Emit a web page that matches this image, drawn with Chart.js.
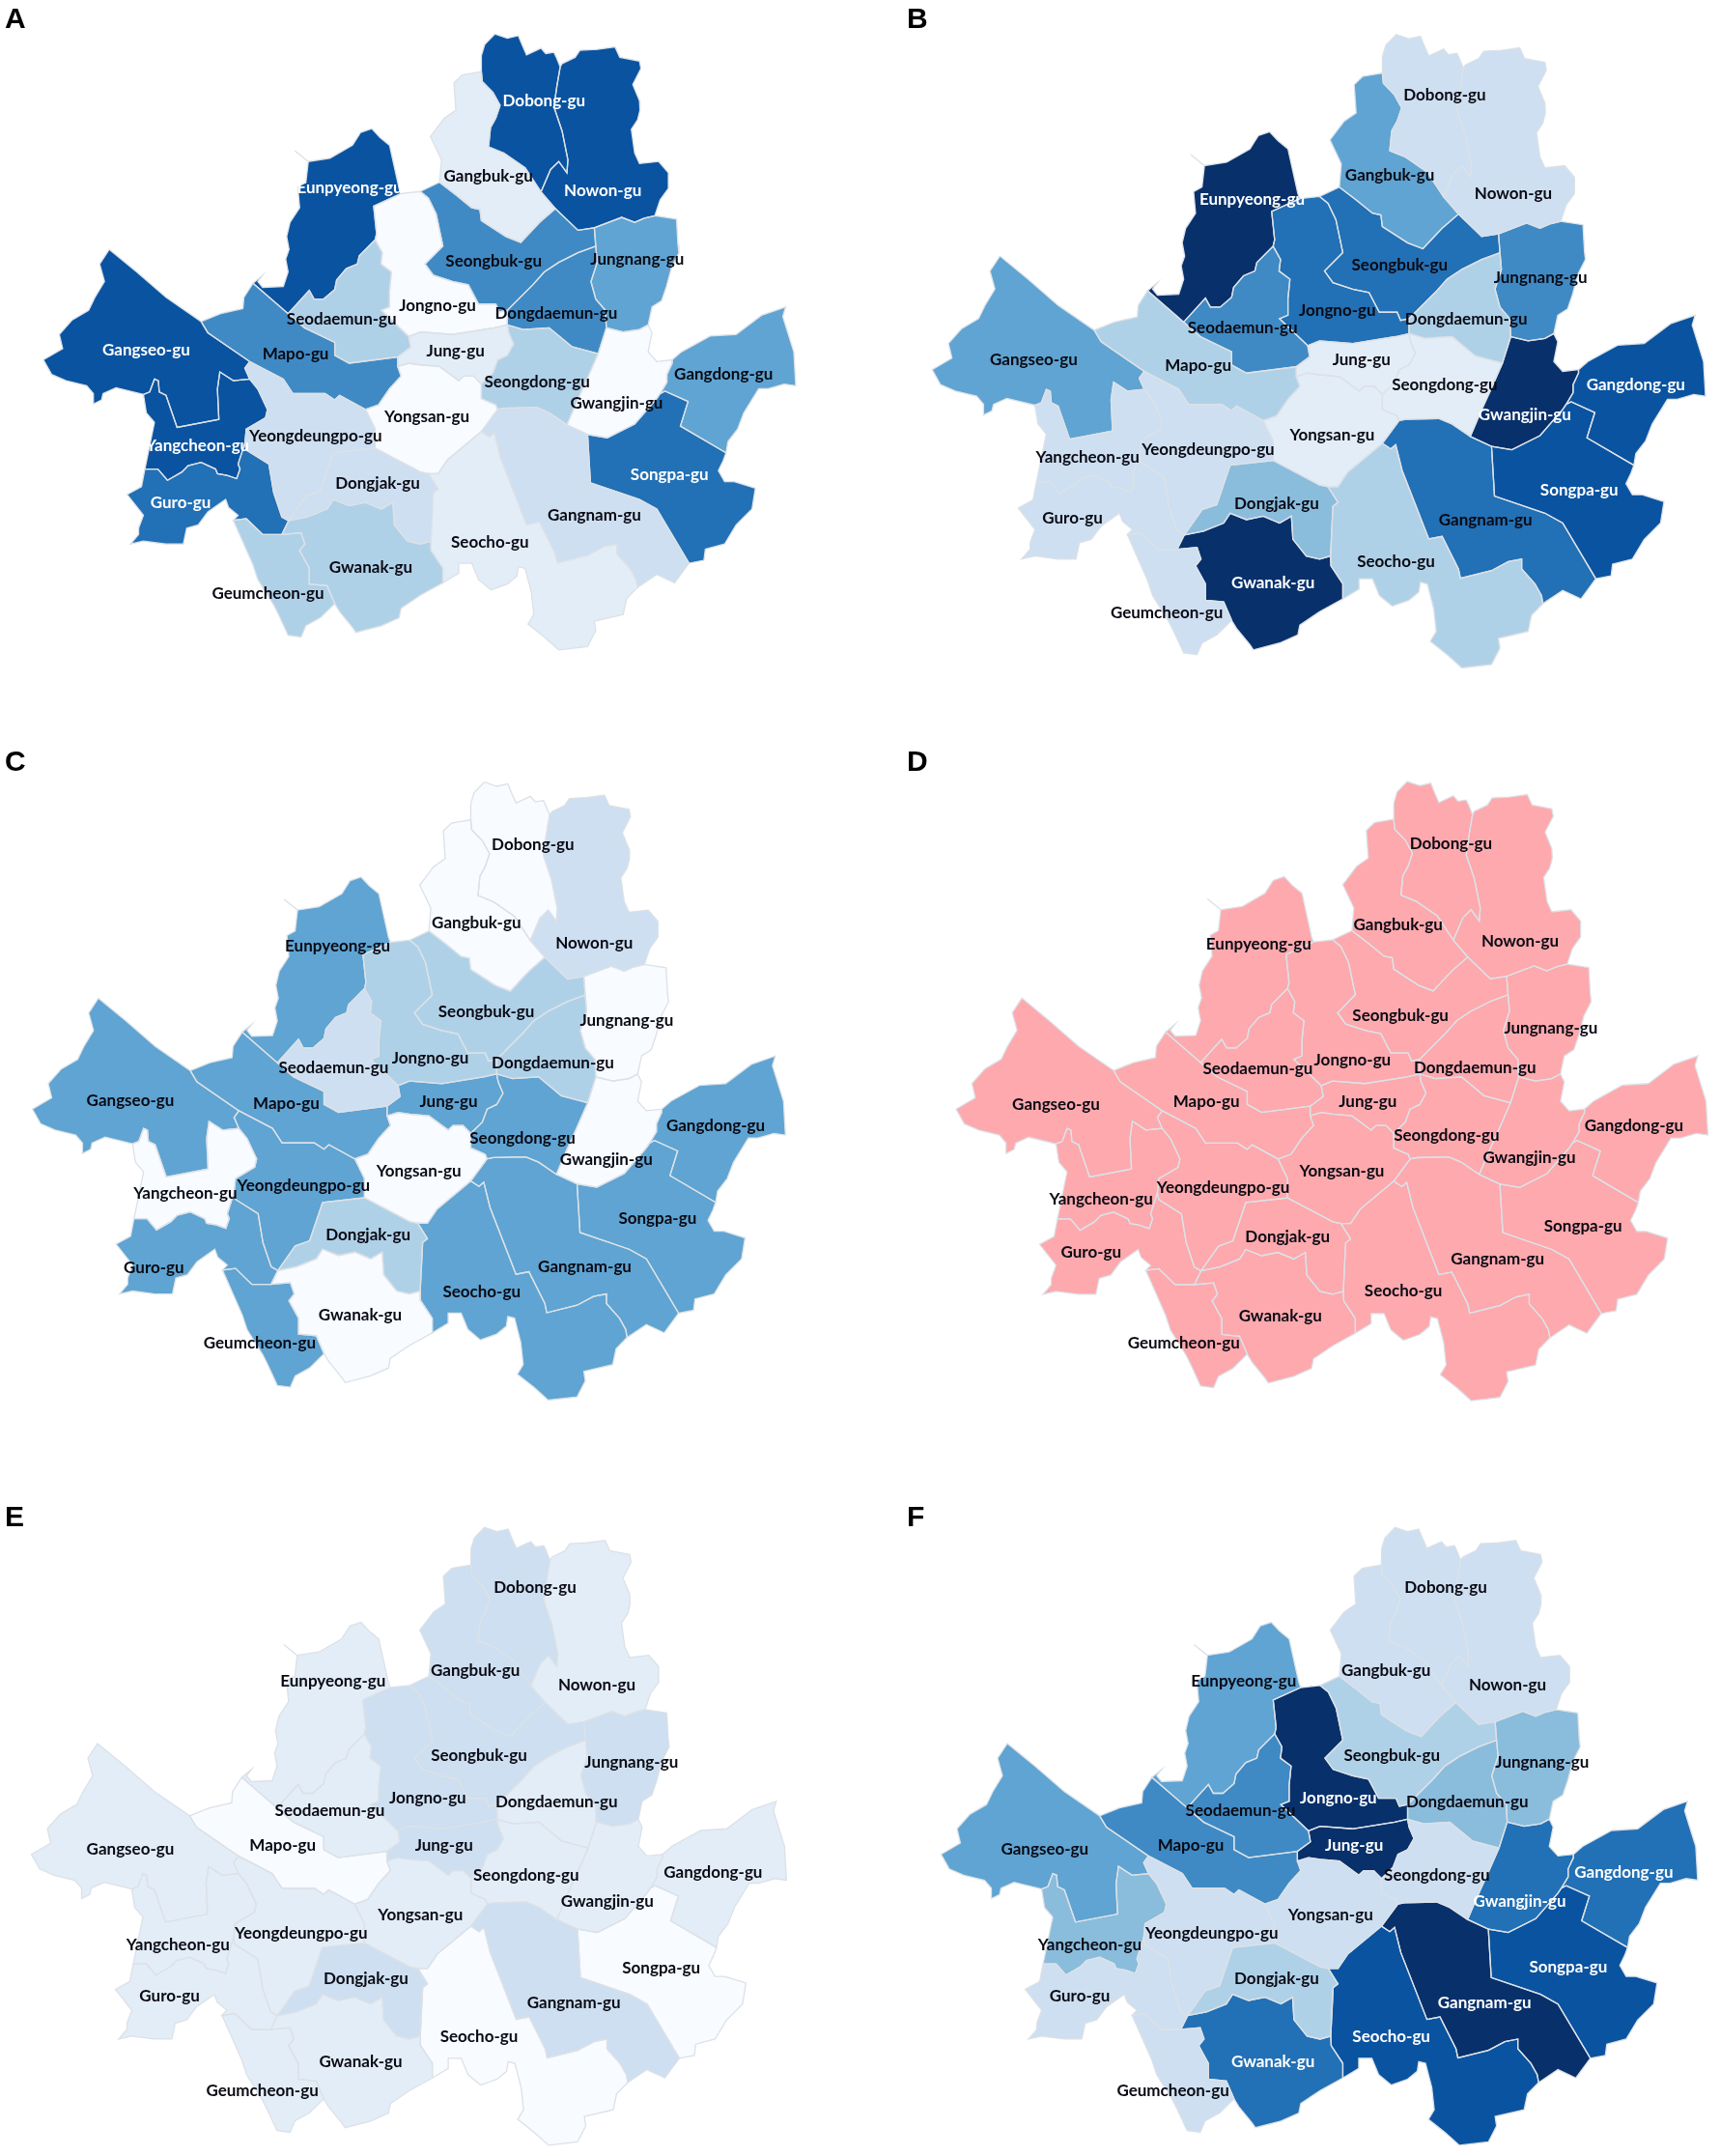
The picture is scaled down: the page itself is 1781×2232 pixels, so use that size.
<!DOCTYPE html>
<html><head><meta charset="utf-8">
<style>html,body{margin:0;padding:0;background:#fff}#page{position:relative;width:1781px;height:2232px;overflow:hidden}canvas{position:absolute}</style>
<script src="https://cdn.jsdelivr.net/npm/chart.js@4/dist/chart.umd.js"></script>
</head><body><div id="page"></div>
<script>
const districts=["Dobong-gu","Nowon-gu","Gangbuk-gu","Seongbuk-gu","Jungnang-gu","Dongdaemun-gu","Jongno-gu","Eunpyeong-gu","Seodaemun-gu","Mapo-gu","Jung-gu","Seongdong-gu","Gwangjin-gu","Gangdong-gu","Songpa-gu","Gangnam-gu","Seocho-gu","Yongsan-gu","Dongjak-gu","Gwanak-gu","Geumcheon-gu","Guro-gu","Yeongdeungpo-gu","Yangcheon-gu","Gangseo-gu"];

// shaded class of each district, same order as districts
const classesA=[8,8,1,6,5,6,0,8,3,6,1,3,0,5,7,2,1,0,2,3,3,7,2,8,8];
const classesB=[2,2,5,7,6,3,7,9,6,3,1,1,9,8,8,7,3,1,4,9,2,2,2,2,5];
const classesC=[0,2,0,3,0,3,3,5,2,5,5,5,0,5,5,5,5,0,3,0,5,5,5,0,5];
const classesD=[10,10,10,10,10,10,10,10,10,10,10,10,10,10,10,10,10,10,10,10,10,10,10,10,10];
const classesE=[2,1,2,2,2,1,2,1,1,0,2,1,1,1,0,2,0,1,2,1,1,1,1,1,1];
const classesF=[2,2,2,3,4,4,9,5,6,6,9,2,7,7,8,9,8,2,3,7,2,2,2,4,5];
const palette=["#f8fbff","#e3edf7","#cddff0","#afd1e7","#8abcdc","#5fa4d2","#3f8ac4","#2270b5","#0a53a0","#08306b","#fda9ad"];

// boundary chains in map units
const dobongTop=[[911,96],[918,69],[939,44],[965,54],[988,48],[997,73],[1005,94],[1035,78],[1045,91],[1062,88],[1067,100],[1075,123]];
const dobongNowon=[[1075,123],[1068,170],[1062,219],[1079,277],[1091,346],[1089,377],[1072,350],[1055,369],[1035,423]];
const dobongGangbuk=[[1035,423],[1002,365],[958,330],[926,315],[930,269],[941,246],[950,215],[935,184],[913,158],[911,134]];
const nowonOuter=[[1075,123],[1079,115],[1106,100],[1116,83],[1152,81],[1189,75],[1199,100],[1240,109],[1243,127],[1226,165],[1240,204],[1241,227],[1236,250],[1223,273],[1230,330],[1240,355],[1280,350],[1300,377],[1300,415],[1283,442],[1272,480]];
const nowonJungnang=[[1272,480],[1250,486],[1230,496],[1203,484],[1146,509]];
const nowonSeongbuk=[[1146,509],[1112,515],[1065,463]];
const nowonGangbuk=[[1065,463],[1035,423]];
const gangbukOuter=[[911,134],[871,142],[854,161],[858,227],[834,246],[805,290],[828,346],[824,400]];
const gangbukSeongbuk=[[824,400],[858,430],[891,461],[908,465],[911,492],[962,530],[993,544],[1032,496],[1065,463]];
const seongbukOuter=[[824,400],[784,422]];
const jongnoSeongbuk=[[784,422],[801,438],[817,476],[831,553],[794,596],[811,623],[851,638],[884,646],[905,692],[941,692],[948,711],[965,707]];
const seongbukDongdaemun=[[1149,553],[1112,569],[1072,592],[1042,615],[1018,646],[965,707]];
const seongbukJungnang=[[1146,509],[1149,553]];
const jungnangOuter=[[1272,480],[1317,488],[1320,550],[1322,569],[1307,603],[1296,650],[1286,684],[1266,699],[1258,742]];
const jungnangSouth=[[1258,742],[1240,753],[1206,759],[1171,749]];
const dongdaemunJungnang=[[1149,553],[1152,592],[1139,638],[1149,680],[1169,707],[1171,749]];
const dongdaemunJongno=[[965,707],[965,742]];
const dongdaemunSeongdong=[[965,742],[998,753],[1052,749],[1099,794],[1154,811]];
const dongdaemunGwangjin=[[1154,811],[1171,749]];
const jongnoOuter=[[744,427],[784,422]];
const eunpyeongJongno=[[744,427],[687,457],[693,523],[690,538]];
const jongnoSeodaemun=[[690,538],[705,569],[702,596],[724,615],[720,661],[720,699],[703,707],[760,770]];
const jongnoJung=[[760,770],[784,759],[851,765],[938,749],[965,742]];
const eunpyeongNorth=[[436,642],[456,623],[446,638],[456,652],[499,650],[509,615],[504,584],[511,561],[506,530],[513,496],[533,461],[529,411],[546,400],[551,350],[523,324],[551,350],[596,342],[643,311],[660,280],[683,271],[700,292],[720,311],[740,415],[744,427]];
const eunpyeongSeodaemun=[[690,538],[657,576],[653,596],[630,607],[610,634],[606,657],[583,680],[563,680],[553,659],[509,715]];
const eunpyeongMapo=[[509,715],[436,642]];
const seodaemunMapo=[[509,715],[543,749],[606,784],[606,815],[636,834],[737,819]];
const seodaemunJung=[[737,819],[764,796],[760,770]];
const mapoNorth=[[328,734],[369,715],[415,703],[417,676],[436,642]];
const mapoYongsan=[[670,945],[697,934],[720,895],[744,865],[737,842]];
const mapoJung=[[737,842],[737,819]];
const mapoYdp=[[429,830],[499,872],[519,907],[586,907],[606,922],[616,911],[670,945]];
const gangseoMapo=[[328,734],[342,761],[429,830]];
const jungYongsan=[[737,842],[760,834],[784,838],[824,842],[864,876],[874,865],[895,865],[911,884]];
const jungSeongdong=[[965,742],[968,761],[978,788],[965,815],[945,826],[935,857],[911,884]];
const seongdongYongsan=[[911,884],[911,919],[941,934],[945,945]];
const seongdongGangnam=[[945,945],[958,942],[1025,940],[1052,953],[1089,982]];
const seongdongGwangjin=[[1154,811],[1132,869],[1110,925],[1089,982]];
const gwangjinOuter=[[1258,742],[1266,761],[1258,807],[1276,830],[1308,826]];
const gwangjinGangdong=[[1308,826],[1308,834],[1297,861],[1297,880],[1283,907]];
const gwangjinSongpa=[[1283,907],[1276,919],[1230,980],[1173,1013],[1132,1005]];
const gwangjinGangnam=[[1132,1005],[1089,982]];
const gangdongOuter=[[1308,826],[1327,807],[1387,769],[1441,765],[1494,719],[1544,699],[1538,722],[1561,807],[1565,888],[1541,884],[1508,895],[1488,895],[1457,953],[1444,992],[1424,1022],[1420,1049]];
const gangdongSongpa=[[1420,1049],[1325,985],[1341,926],[1293,901],[1283,907]];
const songpaOuter=[[1420,1049],[1414,1068],[1404,1092],[1417,1118],[1437,1118],[1481,1134],[1474,1184],[1441,1222],[1417,1268],[1377,1280],[1374,1307],[1343,1314]];
const songpaGangnam=[[1343,1314],[1276,1184],[1240,1161],[1138,1121],[1132,1005]];
const gangnamOuter=[[1343,1314],[1313,1361],[1276,1341],[1236,1372]];
const gangnamSeocho=[[1236,1372],[1233,1353],[1220,1326],[1193,1291],[1193,1268],[1166,1274],[1132,1295],[1069,1313],[1065,1291],[1032,1215],[1005,1221],[951,1061],[938,1001],[928,1011],[911,998]];
const gangnamYongsan=[[911,998],[945,945]];
const yongsanSeocho=[[911,998],[841,1065],[821,1099],[801,1099]];
const yongsanDongjak=[[690,1038],[784,1095],[801,1099]];
const ydpYongsan=[[670,945],[690,992],[690,1038]];
const seochoDongjak=[[801,1099],[821,1136],[811,1145],[806,1261]];
const seochoGwanak=[[806,1261],[807,1284],[831,1326],[831,1361]];
const seochoOuter=[[831,1361],[864,1338],[864,1314],[891,1314],[905,1353],[931,1378],[965,1364],[985,1345],[988,1322],[1002,1326],[1015,1384],[1020,1437],[1008,1460],[1042,1491],[1072,1522],[1132,1514],[1149,1476],[1146,1453],[1206,1437],[1213,1399],[1236,1372]];
const dongjakYdp=[[690,1038],[603,1049],[576,1141],[546,1153],[510,1212]];
const dongjakGwanak=[[510,1212],[549,1203],[590,1184],[603,1161],[636,1176],[670,1168],[703,1184],[727,1168],[730,1222],[757,1261],[784,1268],[806,1261]];
const ydpGuro=[[419,1026],[422,1042],[469,1076],[479,1145],[496,1203],[510,1212]];
const gwanakGuro=[[496,1245],[510,1212]];
const gwanakGeumcheon=[[496,1245],[536,1241],[544,1268],[533,1284],[553,1326],[553,1364],[590,1368],[606,1411]];
const gwanakOuter=[[606,1411],[616,1430],[643,1468],[650,1480],[703,1464],[740,1445],[744,1422],[784,1391],[831,1361]];
const geumcheonOuter=[[395,1211],[436,1318],[446,1353],[479,1414],[489,1437],[509,1487],[536,1491],[546,1464],[576,1445],[606,1411]];
const guroGeumcheon=[[395,1211],[422,1207],[456,1245],[496,1245]];
const guroOuter=[[211,1088],[204,1130],[174,1149],[208,1199],[198,1230],[198,1245],[181,1268],[208,1261],[255,1268],[291,1268],[298,1230],[322,1222],[342,1191],[379,1161],[385,1180],[405,1199],[395,1211]];
const guroYangcheon=[[419,1026],[405,1076],[409,1088],[402,1111],[382,1103],[362,1099],[358,1088],[328,1072],[301,1080],[288,1095],[258,1115],[238,1088],[211,1088]];
const ydpYangcheon=[[429,872],[446,896],[466,945],[462,965],[422,992],[419,1026]];
const gangseoYdp=[[429,830],[419,846],[429,872]];
const gangseoYangcheon=[[429,872],[395,876],[367,855],[362,896],[365,969],[278,988],[255,911],[241,903],[239,876],[231,872],[221,903],[208,909]];
const yangcheonOuter=[[208,909],[214,953],[231,976],[224,1015],[214,1072],[211,1088]];
const gangseoOuter=[[328,734],[255,676],[194,615],[137,561],[117,596],[127,638],[107,676],[94,707],[60,730],[33,765],[40,799],[0,826],[17,861],[47,876],[90,888],[104,907],[104,932],[121,922],[124,907],[151,893],[208,909]];

const rev=a=>[...a].reverse();
const outlines=[
 [...dobongTop,...dobongNowon,...dobongGangbuk],
 [...nowonOuter,...nowonJungnang,...nowonSeongbuk,...nowonGangbuk,...rev(dobongNowon)],
 [...gangbukOuter,...gangbukSeongbuk,...nowonGangbuk,...dobongGangbuk],
 [...seongbukOuter,...jongnoSeongbuk,...rev(seongbukDongdaemun),...rev(seongbukJungnang),...nowonSeongbuk,...rev(gangbukSeongbuk)],
 [...jungnangOuter,...jungnangSouth,...rev(dongdaemunJungnang),...rev(seongbukJungnang),...rev(nowonJungnang)],
 [...seongbukDongdaemun,...dongdaemunJongno,...dongdaemunSeongdong,...dongdaemunGwangjin,...rev(dongdaemunJungnang)],
 [...jongnoOuter,...jongnoSeongbuk,...dongdaemunJongno,...rev(jongnoJung),...rev(jongnoSeodaemun),...rev(eunpyeongJongno)],
 [...eunpyeongNorth,...eunpyeongJongno,...eunpyeongSeodaemun,...eunpyeongMapo],
 [...rev(eunpyeongSeodaemun),...jongnoSeodaemun,...rev(seodaemunJung),...rev(seodaemunMapo)],
 [...mapoNorth,...rev(eunpyeongMapo),...seodaemunMapo,...rev(mapoJung),...rev(mapoYongsan),...rev(mapoYdp),...rev(gangseoMapo)],
 [...jongnoJung,...jungSeongdong,...rev(jungYongsan),...mapoJung,...seodaemunJung],
 [...dongdaemunSeongdong,...seongdongGwangjin,...rev(seongdongGangnam),...rev(seongdongYongsan),...rev(jungSeongdong)],
 [...rev(jungnangSouth),...gwangjinOuter,...gwangjinGangdong,...gwangjinSongpa,...gwangjinGangnam,...rev(seongdongGwangjin),...dongdaemunGwangjin],
 [...gangdongOuter,...gangdongSongpa,...rev(gwangjinGangdong)],
 [...songpaOuter,...songpaGangnam,...rev(gwangjinSongpa),...rev(gangdongSongpa)],
 [...gangnamOuter,...gangnamSeocho,...gangnamYongsan,...seongdongGangnam,...rev(gwangjinGangnam),...rev(songpaGangnam)],
 [...rev(yongsanSeocho),...rev(gangnamSeocho),...rev(seochoOuter),...rev(seochoGwanak),...rev(seochoDongjak)],
 [...mapoYongsan,...jungYongsan,...seongdongYongsan,...rev(gangnamYongsan),...yongsanSeocho,...rev(yongsanDongjak),...rev(ydpYongsan)],
 [...rev(dongjakYdp),...yongsanDongjak,...seochoDongjak,...rev(dongjakGwanak)],
 [...dongjakGwanak,...seochoGwanak,...rev(gwanakOuter),...rev(gwanakGeumcheon),...gwanakGuro],
 [...geumcheonOuter,...rev(gwanakGeumcheon),...rev(guroGeumcheon)],
 [...guroOuter,...guroGeumcheon,...gwanakGuro,...rev(ydpGuro),...guroYangcheon],
 [...mapoYdp,...ydpYongsan,...dongjakYdp,...rev(ydpGuro),...rev(ydpYangcheon),...rev(gangseoYdp)],
 [...gangseoYangcheon,...yangcheonOuter,...rev(guroYangcheon),...rev(ydpYangcheon)],
 [...gangseoOuter,...rev(gangseoYangcheon),...rev(gangseoYdp),...rev(gangseoMapo)]
];

// label centres, same order as districts
const labelsA=[[1027,233],[1138,443],[922,408],[932,607],[1203,602],[1050,726],[826,709],[660,435],[645,740],[558,820],[860,814],[1014,885],[1164,935],[1366,868],[1264,1102],[1122,1195],[925,1257],[806,966],[713,1122],[700,1317],[506,1377],[341,1165],[596,1012],[373,1033],[276,813]];
const labelsB=[[1044,217],[1175,443],[939,401],[958,607],[1227,635],[1085,730],[839,711],[676,455],[658,749],[573,836],[885,822],[1044,880],[1197,948],[1409,880],[1301,1120],[1122,1190],[951,1285],[829,994],[723,1151],[716,1332],[513,1401],[333,1185],[592,1029],[362,1045],[259,822]];
const labelsC=[[1018,234],[1135,463],[910,415],[929,621],[1197,641],[1056,740],[822,729],[645,469],[637,751],[547,834],[857,831],[998,916],[1158,964],[1367,885],[1256,1102],[1117,1213],[920,1272],[800,992],[703,1139],[688,1325],[496,1390],[294,1215],[580,1025],[354,1043],[249,828]];
const labelsD=[[1030,192],[1174,425],[920,387],[925,602],[1238,632],[1080,727],[825,708],[630,433],[628,730],[521,809],[857,809],[1021,888],[1193,943],[1411,867],[1305,1106],[1127,1185],[931,1260],[803,975],[690,1130],[675,1321],[474,1385],[281,1167],[556,1013],[302,1042],[208,815]];
const labelsE=[[1022,215],[1140,448],[908,413],[915,617],[1206,632],[1063,728],[817,719],[636,440],[630,748],[540,832],[848,832],[1005,903],[1160,964],[1362,897],[1263,1124],[1096,1208],[915,1287],[803,998],[699,1150],[689,1347],[501,1417],[324,1190],[575,1042],[340,1068],[249,841]];
const labelsF=[[1046,215],[1164,448],[932,413],[943,617],[1230,632],[1087,728],[841,719],[660,440],[654,748],[559,832],[871,832],[1029,903],[1187,964],[1386,897],[1280,1122],[1120,1208],[942,1287],[826,998],[723,1150],[716,1347],[525,1417],[347,1190],[599,1042],[366,1068],[280,841]];

const whiteA=["Dobong-gu","Nowon-gu","Eunpyeong-gu","Songpa-gu","Guro-gu","Yangcheon-gu","Gangseo-gu"];
const whiteB=["Eunpyeong-gu","Gwangjin-gu","Gangdong-gu","Songpa-gu","Gwanak-gu"];
const whiteF=["Jongno-gu","Jung-gu","Gwangjin-gu","Gangdong-gu","Songpa-gu","Gangnam-gu","Seocho-gu","Gwanak-gu"];

const panels=[
 {letter:"A",classes:classesA,labels:labelsA,white:whiteA,cell:[0,0,890,770],crop:[0,0,860,700],ext:[82,1505,75,1510],lx:5,ly:29},
 {letter:"B",classes:classesB,labels:labelsB,white:whiteB,cell:[890,0,891,770],crop:[930,0,850,710],ext:[65,1545,75,1530],lx:939,ly:29},
 {letter:"C",classes:classesC,labels:labelsC,white:[],cell:[0,770,890,780],crop:[0,770,850,700],ext:[62,1503,85,1525],lx:5,ly:798},
 {letter:"D",classes:classesD,labels:labelsD,white:[],cell:[890,770,891,780],crop:[990,790,780,680],ext:[0,1568,40,1525],lx:939,ly:798},
 {letter:"E",classes:classesE,labels:labelsE,white:[],cell:[0,1550,890,682],crop:[0,1550,850,680],ext:[60,1505,68,1550],lx:5,ly:1580},
 {letter:"F",classes:classesF,labels:labelsF,white:whiteF,cell:[890,1550,891,682],crop:[930,1550,850,680],ext:[82,1530,68,1550],lx:939,ly:1580}
];
const Z=1568;
const page=document.getElementById("page");
const fillPlugin={id:"polyFill",beforeDatasetsDraw(c){
  const x=c.ctx;
  c.data.datasets.forEach((d,i)=>{
    const pts=c.getDatasetMeta(i).data;
    x.beginPath();
    pts.forEach((p,j)=>j?x.lineTo(p.x,p.y):x.moveTo(p.x,p.y));
    x.closePath();
    x.fillStyle=d.backgroundColor;x.fill();
  });
}};
const textPlugin={id:"mapText",afterDatasetsDraw(c,a,o){
  const x=c.ctx,p=o.panel;
  const [cx,cy,cw,ch]=p.crop;
  x.save();
  x.textAlign="center";x.textBaseline="middle";
  x.font="700 17px Lato";
  districts.forEach((n,i)=>{
    const [zx,zy]=p.labels[i];
    x.fillStyle=p.white.includes(n)?"#ffffff":"#0a0a14";
    x.fillText(n,cx+zx*cw/Z-p.cell[0],cy+zy*ch/Z-p.cell[1]);
  });
  x.textAlign="left";x.textBaseline="alphabetic";
  x.font="700 30px 'Liberation Sans'";x.fillStyle="#000";
  x.fillText(p.letter,p.lx-p.cell[0],p.ly-p.cell[1]);
  x.restore();
}};
panels.forEach(p=>{
  const cv=document.createElement("canvas");
  const [X,Y,W,H]=p.cell;
  cv.style.left=X+"px";cv.style.top=Y+"px";cv.style.width=W+"px";cv.style.height=H+"px";
  cv.width=W;cv.height=H;page.appendChild(cv);
  const [cx,cy,cw,ch]=p.crop,[zl,zr,zt,zb]=p.ext;
  const L=cx+zl*cw/Z,R=cx+zr*cw/Z,T=cy+zt*ch/Z,B=cy+zb*ch/Z;
  new Chart(cv,{type:"scatter",
    data:{datasets:districts.map((n,i)=>({label:n,
      data:outlines[i].concat([outlines[i][0]]).map(q=>({x:q[0],y:q[1]})),
      showLine:true,tension:0,pointRadius:0,pointHoverRadius:0,clip:false,
      borderColor:"#dce1e7",borderWidth:1.3,backgroundColor:palette[p.classes[i]]}))},
    options:{responsive:false,animation:false,devicePixelRatio:1,
      layout:{padding:{left:L-X,right:X+W-R,top:T-Y,bottom:Y+H-B}},
      scales:{x:{type:"linear",display:false,min:0,max:Z},y:{type:"linear",display:false,min:40,max:1525,reverse:true}},
      plugins:{legend:{display:false},tooltip:{enabled:false},mapText:{panel:p}},
      events:[]},
    plugins:[fillPlugin,textPlugin]});
});
</script></body></html>
